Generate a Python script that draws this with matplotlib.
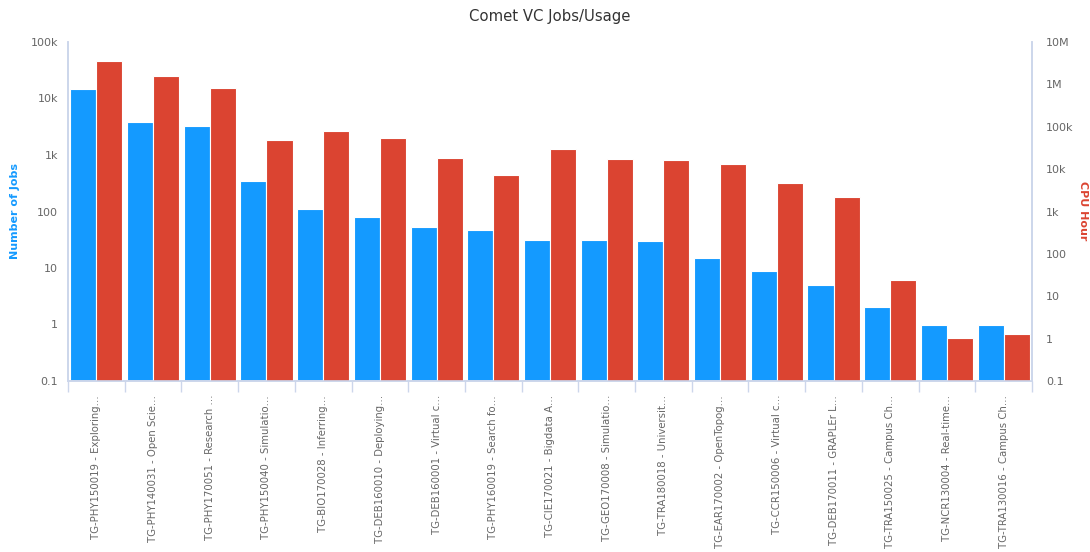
import matplotlib
matplotlib.use("Agg")
import matplotlib.pyplot as plt
import numpy as np
from matplotlib.ticker import FixedLocator, FixedFormatter, NullLocator

categories = [
    "TG-PHY150019 - Exploring…",
    "TG-PHY140031 - Open Scie…",
    "TG-PHY170051 - Research …",
    "TG-PHY150040 - Simulatio…",
    "TG-BIO170028 - Inferring…",
    "TG-DEB160010 - Deploying…",
    "TG-DEB160001 - Virtual c…",
    "TG-PHY160019 - Search fo…",
    "TG-CIE170021 - Bigdata A…",
    "TG-GEO170008 - Simulatio…",
    "TG-TRA180018 - Universit…",
    "TG-EAR170002 - OpenTopog…",
    "TG-CCR150006 - Virtual c…",
    "TG-DEB170011 - GRAPLEr L…",
    "TG-TRA150025 - Campus Ch…",
    "TG-NCR130004 - Real-time…",
    "TG-TRA130016 - Campus Ch…",
]
jobs = [14700, 3840, 3260, 347, 111, 80, 54, 47, 31, 31, 30, 15, 9, 5, 2, 1, 1]
cpu_hours = [3560000, 1580000, 822000, 48900, 79600, 54400, 18400, 7300, 29900,
             17400, 16500, 13300, 4700, 2200, 24, 1.04, 1.3]

left_ticks = [0.1, 1, 10, 100, 1e3, 1e4, 1e5]
left_labels = ["0.1", "1", "10", "100", "1k", "10k", "100k"]
right_ticks = [0.1, 1, 10, 100, 1e3, 1e4, 1e5, 1e6, 1e7]
right_labels = ["0.1", "1", "10", "100", "1k", "10k", "100k", "1M", "10M"]

BLUE = "#149aff"
RED = "#db4431"
AXIS = "#ccd6eb"
TXT = "#666666"

fig = plt.figure(figsize=(10.9, 5.52), dpi=100)
ax = fig.add_axes([68/1090, 1-381/552, (1032-68)/1090, (381-42)/552])
ax2 = ax.twinx()

n = len(categories)
x = np.arange(n)
w = 0.46
ax.set_yscale("log")
ax2.set_yscale("log")
ax.set_ylim(0.1, 1e5)
ax2.set_ylim(0.1, 1e7)
ax.set_xlim(-0.5, n - 0.5)

ax.bar(x - w/2, np.array(jobs) - 0.1, bottom=0.1, width=w, color=BLUE,
       edgecolor="white", linewidth=0.8, zorder=2)
ax2.bar(x + w/2, np.array(cpu_hours) - 0.1, bottom=0.1, width=w, color=RED,
        edgecolor="white", linewidth=0.8, zorder=2)

for a in (ax, ax2):
    a.spines["top"].set_visible(False)
    for s in ("left", "right", "bottom"):
        a.spines[s].set_color(AXIS)
        a.spines[s].set_linewidth(1.2)

ax.yaxis.set_major_locator(FixedLocator(left_ticks))
ax.yaxis.set_major_formatter(FixedFormatter(left_labels))
ax.yaxis.set_minor_locator(NullLocator())
ax2.yaxis.set_major_locator(FixedLocator(right_ticks))
ax2.yaxis.set_major_formatter(FixedFormatter(right_labels))
ax2.yaxis.set_minor_locator(NullLocator())
ax.tick_params(axis="y", length=0, pad=7, labelsize=8, labelcolor=TXT)
ax2.tick_params(axis="y", length=0, pad=10, labelsize=8, labelcolor=TXT)

ax.set_xticks(x)
ax.set_xticklabels(categories, rotation=90, fontsize=7.3, color=TXT, va="top", ha="center")
ax.tick_params(axis="x", length=0, pad=10)
ax.set_xticks(np.arange(n + 1) - 0.5, minor=True)
ax.tick_params(axis="x", which="minor", length=8, color=AXIS, width=1)

fig.text(15/1090, 1 - 211/552, "Number of Jobs", color=BLUE, fontsize=8,
         fontweight="bold", rotation=90, ha="center", va="center")
fig.text(1083/1090, 1 - 211/552, "CPU Hour", color=RED, fontsize=8,
         fontweight="bold", rotation=270, ha="center", va="center")

fig.text(550/1090, 1 - 16/552, "Comet VC Jobs/Usage", ha="center", va="center",
         fontsize=10.7, color="#333333")

fig.savefig("out.png", dpi=100, facecolor="white")
